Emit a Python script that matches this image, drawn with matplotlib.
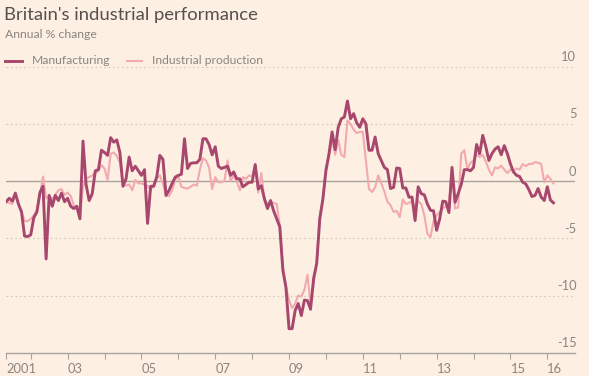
import numpy as np
import matplotlib
matplotlib.use("Agg")
import matplotlib.pyplot as plt
from matplotlib.lines import Line2D
import matplotlib.transforms as mtransforms

plt.rcParams['font.family'] = ['Lato', 'DejaVu Sans']

title = "Britain's industrial performance"
subtitle = "Annual % change"
series_names = ["Manufacturing", "Industrial production"]

start_year = 2001
start_month = 5  # May 2001

manufacturing = [
    # 2001 May-Dec
    -1.8, -1.5, -1.75, -1.05, -2.0, -2.7, -4.8, -4.85,
    # 2002
    -4.7, -3.2, -2.7, -1.0, -0.45, -6.8, -1.25, -2.2, -1.25, -1.7, -1.05, -1.8,
    # 2003
    -1.5, -2.2, -2.4, -2.2, -3.3, 3.5, -0.3, -1.7, -1.1, 0.9, 1.0, 2.7,
    # 2004
    2.5, 2.25, 3.8, 3.4, 3.6, 2.5, -0.45, 0.2, 2.1, 0.9, 1.3, 0.9,
    # 2005
    0.5, 1.0, -3.7, -0.45, -0.45, 0.4, 2.25, 1.9, -1.25, -0.8, -0.2, 0.35,
    # 2006
    0.5, 0.6, 3.7, 1.1, 1.55, 1.6, 1.6, 1.9, 3.7, 3.7, 3.2, 2.3,
    # 2007
    3.0, 1.3, 1.1, 1.2, 1.3, 0.5, 0.8, 0.2, 0.2, -0.5, -0.3, -0.1,
    # 2008
    -0.1, 1.45, -0.7, -0.4, -1.55, -2.4, -1.7, -2.6, -3.3, -4.0, -7.8, -9.3,
    # 2009
    -12.9, -12.9, -11.3, -10.7, -11.75, -10.4, -10.45, -11.2, -8.5, -7.2, -3.3, -1.6,
    # 2010
    0.9, 2.4, 4.3, 2.75, 4.7, 5.45, 5.6, 7.0, 5.45, 5.9, 5.1, 4.7,
    # 2011
    5.45, 5.0, 2.7, 2.7, 3.85, 2.4, 1.8, 1.2, 1.0, -0.65, -0.55, 1.15,
    # 2012
    1.1, -0.6, -0.6, -1.4, -1.4, -3.45, -0.5, -1.1, -1.2, -2.0, -2.55, -2.6,
    # 2013
    -4.3, -3.3, -1.75, -1.8, -2.75, 1.2, -1.85, -1.1, -0.3, 1.0, 1.0, 0.9,
    # 2014
    1.2, 3.2, 2.4, 4.0, 3.0, 1.8, 2.4, 2.8, 3.0, 2.3, 3.1, 2.4,
    # 2015
    1.5, 0.8, 0.5, 0.4, -0.1, -0.25, -0.75, -1.35, -1.25, -0.65, -1.4, -1.7,
    # 2016
    -0.5, -1.65, -1.9,
]

industrial = [
    # 2001 May-Dec
    -1.8, -1.9, -2.0, -1.3, -2.0, -2.6, -3.5, -3.5,
    # 2002
    -3.3, -3.0, -2.55, -1.2, 0.4, -1.5, -1.3, -1.6, -1.2, -0.8, -0.7, -1.2,
    # 2003
    -1.0, -1.3, -2.1, -2.5, -3.2, -0.5, 0.2, 0.35, 0.5, 0.7, 0.9, 1.4,
    # 2004
    1.1, 0.1, 2.4, 2.5, 2.2, 1.6, -0.25, -0.4, -0.3, -0.8, 0.1, -0.2,
    # 2005
    -0.2, -0.3, -0.4, -0.8, -0.3, 0.2, 0.5, -0.2, -1.25, -1.3, -0.8, 0.1,
    # 2006
    0.4, -0.5, -0.6, -0.65, -0.5, -0.3, -0.4, 1.0, 2.0, 1.8, 1.2, -0.7,
    # 2007
    0.35, -0.1, -0.1, 0.0, 1.8, 0.0, 0.5, 0.0, -0.8, 0.35, 0.2, 0.5,
    # 2008
    0.4, 1.4, -1.0, 0.7, -1.6, -2.0, -1.85, -1.9, -2.0, -3.9, -7.5, -9.2,
    # 2009
    -10.4, -11.1, -10.7, -10.0, -10.1, -9.5, -8.2, -10.8, -9.0, -7.0, -3.1, -1.5,
    # 2010
    1.2, 2.1, 3.6, 2.3, 3.6, 2.3, 2.1, 5.3, 5.0, 4.5, 4.2, 4.3,
    # 2011
    4.3, 1.8, -0.7, -0.95, -0.55, 0.5, -0.2, -0.9, -1.8, -2.1, -2.7, -2.6,
    # 2012
    -3.15, -1.6, -2.0, -1.9, -1.75, -2.3, -1.75, -2.0, -3.0, -4.6, -4.9, -3.5,
    # 2013
    -3.0, -2.7, -2.4, -2.2, -2.2, 1.1, -2.4, -2.3, 2.4, 2.7, 1.0, 1.6,
    # 2014
    1.8, 2.35, 2.1, 2.3, 1.7, 1.0, 0.5, 1.2, 1.1, 1.35, 1.0, 0.7,
    # 2015
    1.0, 0.9, 1.1, 1.0, 1.5, 1.3, 1.5, 1.5, 1.65, 1.6, 1.5, -0.1,
    # 2016
    0.5, 0.2, -0.2,
]

x_tick_years = [2001.333, 2002, 2003, 2004, 2005, 2006, 2007, 2008, 2009,
                2010, 2011, 2012, 2013, 2014, 2015, 2016]
x_tick_labels = ["2001", "", "03", "", "05", "", "07", "", "09",
                 "", "11", "", "13", "", "15", "16"]
y_ticks = [10, 5, 0, -5, -10, -15]
y_tick_labels = ["10", "5", "0", "-5", "-10", "-15"]

bg = "#FDF0E2"
dark = "#A8476D"
light = "#F2A9B0"
grey_text = "#8A8580"

n = len(manufacturing)
t = start_year + (start_month - 1 + np.arange(n)) / 12.0

W, H = 589, 376
fig = plt.figure(figsize=(W / 100, H / 100), dpi=100, facecolor=bg)
ax = fig.add_axes([6 / W, 1 - 352.7 / H, 569 / W, 286 / H])
ax.set_facecolor(bg)

ax.plot(t, industrial, color=light, lw=1.5, solid_joinstyle='round', zorder=3)
ax.plot(t, manufacturing, color=dark, lw=2.1, solid_joinstyle='round', zorder=4)

ax.set_xlim(2001.33, 2016.75)
ax.set_ylim(-15, 10)

# gridlines
for v in y_ticks:
    if v == 0:
        ax.axhline(v, color="#A9A39D", lw=1.0, zorder=2)
    elif v == -15:
        pass
    else:
        ax.axhline(v, color="#CFC7BE", lw=0.8, ls=(0, (1.5, 2.5)), zorder=1)

blend = mtransforms.blended_transform_factory(ax.transAxes, ax.transData)
for v, lab in zip(y_ticks, y_tick_labels):
    ax.annotate(lab, xy=(1.0, v), xycoords=blend, xytext=(1, 2.5),
                textcoords='offset points', ha='right', va='bottom',
                fontsize=9.3, color=grey_text)

for s in ['top', 'right', 'left']:
    ax.spines[s].set_visible(False)
ax.spines['bottom'].set_color("#A9A39D")
ax.spines['bottom'].set_linewidth(1.0)

ax.set_yticks([])
ax.set_xticks(x_tick_years)
ax.set_xticklabels(x_tick_labels, fontsize=9.3, color=grey_text)
for lab in ax.get_xticklabels():
    lab.set_horizontalalignment('left')
ax.tick_params(axis='x', length=4, width=0.8, color="#A9A39D", pad=3.5)

# title & subtitle
fig.text(4 / W, 1 - 7 / H, title, fontsize=13.3, color="#55504C", va='top', ha='left')
fig.text(5 / W, 1 - 29 / H, subtitle, fontsize=8.8, color=grey_text, va='top', ha='left')

# legend
ly = 1 - 61 / H
fig.add_artist(Line2D([5 / W, 22 / W], [ly, ly], color=dark, lw=2.1))
fig.text(32 / W, ly, series_names[0], fontsize=8.75, color=grey_text, va='center', ha='left')
fig.add_artist(Line2D([127 / W, 142 / W], [ly, ly], color=light, lw=1.5))
fig.text(152 / W, ly, series_names[1], fontsize=8.75, color=grey_text, va='center', ha='left')

fig.savefig("out.png", dpi=100, facecolor=bg)
